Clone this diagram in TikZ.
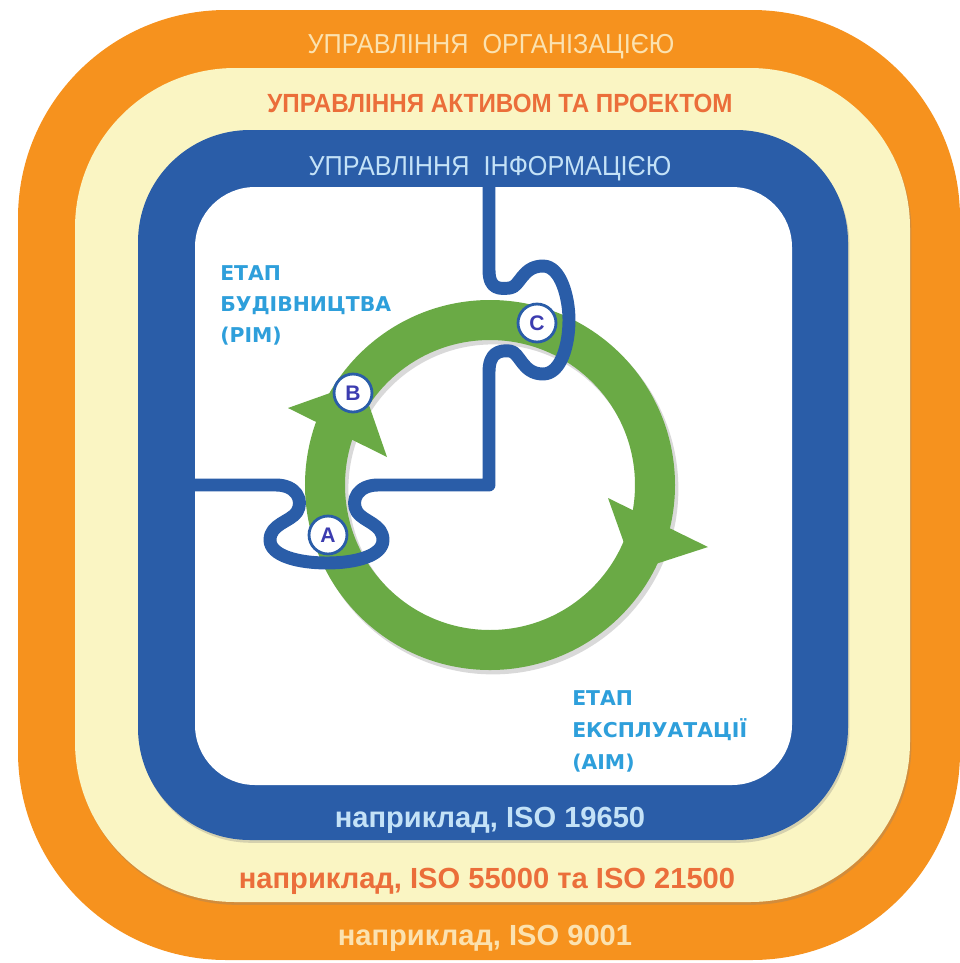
\documentclass[tikz,border=0pt]{standalone}
\usepackage{fontspec}
\setmainfont{Liberation Sans}
\newfontfamily\narrowfont[FakeStretch=0.92]{Liberation Sans}
\newfontfamily\phasefont{DejaVu Sans}
\usetikzlibrary{shadows}

\definecolor{orgorange}{HTML}{F6921E}
\definecolor{assetcream}{HTML}{FAF5C3}
\definecolor{infoblue}{HTML}{2A5DA8}
\definecolor{cyclegreen}{HTML}{6AAA45}
\definecolor{phaseblue}{HTML}{2E9FDB}
\definecolor{gateletter}{HTML}{3C3CB0}
\definecolor{paleorange}{HTML}{FBE2B0}
\definecolor{redorange}{HTML}{EB6E3A}
\definecolor{paleblue}{HTML}{C4E2F7}

\begin{document}
\begin{tikzpicture}[x=0.025cm, y=-0.025cm]
	\tikzstyle{band} = [drop shadow={shadow xshift=1pt, shadow yshift=-2pt, opacity=0.3}]
	\tikzstyle{title} = [inner sep=0, anchor=base, font=\narrowfont\fontsize{19.5}{20}\selectfont]
	\tikzstyle{example} = [inner sep=0, anchor=base, font=\bfseries\fontsize{20.7}{22}\selectfont]
	\tikzstyle{phase} = [inner sep=0, anchor=base west, text=phaseblue, font=\phasefont\bfseries\fontsize{14.5}{16}\selectfont]
	\tikzstyle{gate} = [circle, draw=infoblue, line width=2pt, fill=white, minimum size=27pt, inner sep=0, text=gateletter, font=\bfseries\fontsize{15}{16}\selectfont]

	\useasboundingbox (0,0) rectangle (960,963);

	% nested bands
	\fill[orgorange, rounded corners=5.2cm] (18,10) rectangle (960,960);
	\fill[assetcream, band, rounded corners=4cm] (75,68) rectangle (910,902);
	\fill[infoblue, band, rounded corners=2.8cm] (138,130) rectangle (848,840);
	\fill[white, rounded corners=1.5cm] (195,187) rectangle (792,785);

	% life cycle
	\draw[black, opacity=0.15, line width=29pt] (493,489) circle (165);
	\draw[cyclegreen, line width=28.45pt] (490,485) circle (165);
	\fill[cyclegreen] (288,408) -- (387,457) -- (361,382) -- cycle;
	\fill[cyclegreen] (608,498) -- (708,547) -- (634,571) -- cycle;

	% puzzle seam
	\draw[infoblue, line width=9.2pt, line join=round]
		(489,150) -- (489,270) .. controls (489,290) and (500,289) .. (510,288)
		.. controls (520,287) and (522,266) .. (543,266)
		.. controls (561,266) and (569,298) .. (569,320)
		.. controls (569,345) and (561,374) .. (543,374)
		.. controls (522,374) and (520,352) .. (510,351)
		.. controls (500,350) and (489,352) .. (489,372)
		-- (489,485) -- (378,485)
		.. controls (358,485) and (350,500) .. (357,512)
		.. controls (364,522) and (383,524) .. (383,540)
		.. controls (383,556) and (355,563) .. (327,563)
		.. controls (299,563) and (270,556) .. (270,540)
		.. controls (270,524) and (290,522) .. (297,512)
		.. controls (304,500) and (296,485) .. (276,485)
		-- (150,485);

	\foreach \l/\x/\y in {A/328/535, B/353/393, C/537/323}
		\node[gate] (\l) at (\x,\y) {\l};

	\node[title, text=paleorange] (org) at (491,53) {УПРАВЛІННЯ\ \ ОРГАНІЗАЦІЄЮ};
	\node[title, text=redorange, font=\narrowfont\bfseries\fontsize{18.7}{20}\selectfont] (asset) at (500,112) {УПРАВЛІННЯ АКТИВОМ ТА ПРОЕКТОМ};
	\node[title, text=paleblue] (info) at (490,175) {УПРАВЛІННЯ\ \ ІНФОРМАЦІЄЮ};

	\node[example, text=paleblue] (iso19650) at (490,827) {наприклад, ISO 19650};
	\node[example, text=redorange] (iso55000) at (487,888) {наприклад, ISO 55000 та ISO 21500};
	\node[example, text=paleorange] (iso9001) at (485,945) {наприклад, ISO 9001};

	\foreach \t [count=\i] in {ЕТАП, БУДІВНИЦТВА, (PIM)}
		\node[phase] (pim\i) at (220,249+31*\i) {\t};
	\foreach \t [count=\i] in {ЕТАП, ЕКСПЛУАТАЦІЇ, (AIM)}
		\node[phase] (aim\i) at (572,673+32*\i) {\t};
\end{tikzpicture}
\end{document}
